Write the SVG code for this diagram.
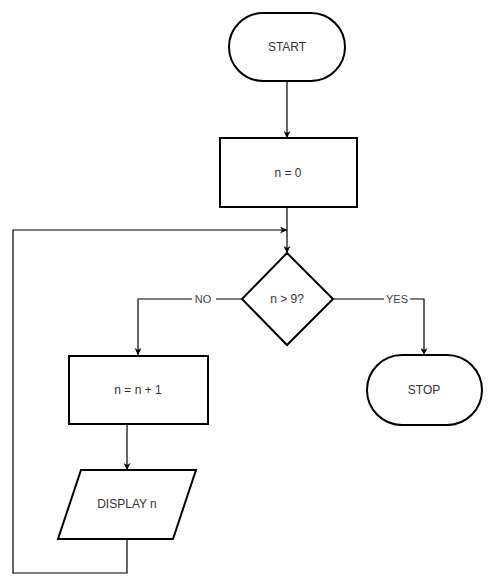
<svg xmlns="http://www.w3.org/2000/svg" width="493" height="587" viewBox="0 0 493 587">
<style>
.shape{fill:#fff;stroke:#000;stroke-width:2}
.edge{fill:none;stroke:#000;stroke-width:1.2}
.t{font-family:"Liberation Sans",Arial,sans-serif;font-size:12px;fill:#333;text-anchor:middle;dominant-baseline:central}
.lbl{font-family:"Liberation Sans",Arial,sans-serif;font-size:11px;fill:#444;text-anchor:middle;dominant-baseline:central}
</style>
<defs>
<marker id="arr" viewBox="0 0 10 10" refX="10" refY="5" markerWidth="7" markerHeight="7" orient="auto" markerUnits="userSpaceOnUse">
<path d="M0,0 L10,5 L0,10 L3,5 Z" fill="#000"/>
</marker>
</defs>
<rect width="493" height="587" fill="#fff"/>
<g id="connectors">
<path class="edge" d="M287,81 V138" marker-end="url(#arr)"/>
<path class="edge" d="M287,207 V253" marker-end="url(#arr)"/>
<path class="edge" d="M127,539 V573 H13 V230 H287" marker-end="url(#arr)"/>
<path class="edge" d="M242,299 H138 V355" marker-end="url(#arr)"/>
<path class="edge" d="M333,299 H424 V355" marker-end="url(#arr)"/>
<path class="edge" d="M127,424 V470" marker-end="url(#arr)"/>
<rect x="192" y="292" width="24" height="14" fill="#fff"/>
<text class="lbl" x="203" y="299">NO</text>
<rect x="384" y="292" width="26" height="14" fill="#fff"/>
<text class="lbl" x="397" y="299">YES</text>
</g>
<g id="start">
<rect class="shape" x="229" y="13" width="116" height="68" rx="34" ry="34"/>
<text class="t" x="287" y="47">START</text>
</g>
<g id="init">
<rect class="shape" x="220" y="138" width="137" height="69"/>
<text class="t" x="288" y="173">n = 0</text>
</g>
<g id="decision">
<polygon class="shape" points="287,253 333,299 287,345 242,299"/>
<text class="t" x="287" y="299">n &gt; 9?</text>
</g>
<g id="increment">
<rect class="shape" x="69" y="356" width="139" height="68"/>
<text class="t" x="138" y="390">n = n + 1</text>
</g>
<g id="display">
<polygon class="shape" points="81,470 196,470 173,539 58,539"/>
<text class="t" x="127" y="504">DISPLAY n</text>
</g>
<g id="stop">
<rect class="shape" x="367" y="355" width="115" height="70" rx="35" ry="35"/>
<text class="t" x="424" y="390">STOP</text>
</g>
</svg>
